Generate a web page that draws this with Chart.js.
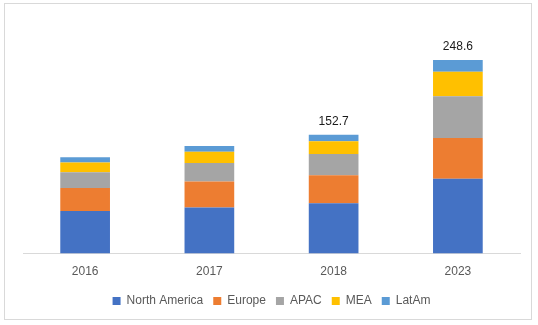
<!DOCTYPE html>
<html>
<head>
<meta charset="utf-8">
<script src="https://cdn.jsdelivr.net/npm/chart.js@4"></script>
<style>
  body { margin: 0; background: #fff; }
  #box { position: absolute; left: 4px; top: 3px; width: 526px; height: 315px; border: 1px solid #d9d9d9; }
</style>
</head>
<body>
<div id="box"><canvas id="marketChart" width="526" height="315"></canvas></div>
<script>
var years = ["2016", "2017", "2018", "2023"];
var northAmerica = [54.6, 59.3, 64.8, 96.0];
var europe = [29.7, 33.2, 35.8, 52.4];
var apac = [20.3, 24.0, 27.2, 53.8];
var mea = [12.5, 14.2, 16.4, 31.3];
var latAm = [6.5, 7.4, 8.5, 15.1];
var totalLabels = ["", "", "152.7", "248.6"];

// write the total above the bars that have one
var totalsPlugin = {
  id: "totals",
  afterDatasetsDraw: function (chart) {
    var ctx = chart.ctx;
    var last = chart.getDatasetMeta(chart.data.datasets.length - 1);
    ctx.save();
    ctx.font = "12px 'Liberation Sans', Arial, sans-serif";
    ctx.fillStyle = "#1a1a1a";
    ctx.textAlign = "center";
    ctx.textBaseline = "middle";
    last.data.forEach(function (bar, i) {
      if (totalLabels[i]) ctx.fillText(totalLabels[i], bar.x, bar.y - 13);
    });
    ctx.restore();
  }
};

new Chart(document.getElementById("marketChart"), {
  type: "bar",
  data: {
    labels: years,
    datasets: [
      { label: "North America", data: northAmerica, backgroundColor: "#4472C4" },
      { label: "Europe", data: europe, backgroundColor: "#ED7D31" },
      { label: "APAC", data: apac, backgroundColor: "#A5A5A5" },
      { label: "MEA", data: mea, backgroundColor: "#FFC000" },
      { label: "LatAm", data: latAm, backgroundColor: "#5B9BD5" }
    ]
  },
  options: {
    responsive: false,
    animation: false,
    layout: { padding: { left: 18, right: 11, top: 16, bottom: 2 } },
    datasets: { bar: { barPercentage: 0.4, categoryPercentage: 1 } },
    scales: {
      x: {
        stacked: true,
        grid: { display: false },
        border: { color: "#d9d9d9" },
        ticks: { color: "#595959", font: { size: 12, family: "'Liberation Sans', Arial, sans-serif" }, padding: 3 },
        afterFit: function (scale) { scale.height += 3; }
      },
      y: { stacked: true, display: false, min: 0, max: 300 }
    },
    plugins: {
      legend: {
        position: "bottom",
        labels: {
          boxWidth: 8,
          boxHeight: 8,
          padding: 10,
          color: "#595959",
          font: { size: 12, family: "'Liberation Sans', Arial, sans-serif" }
        }
      },
      tooltip: { enabled: false }
    }
  },
  plugins: [totalsPlugin]
});
</script>
</body>
</html>
